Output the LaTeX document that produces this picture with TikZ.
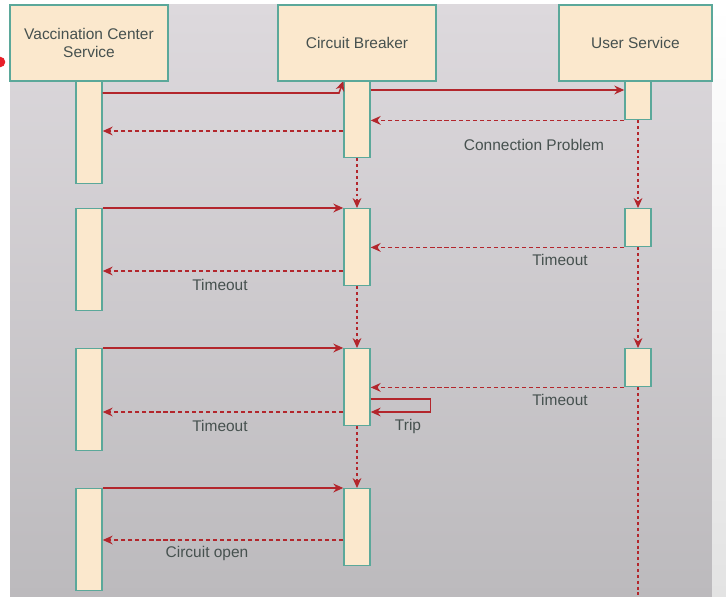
\documentclass[tikz,border=0pt]{standalone}
\usepackage{fontspec}
\setmainfont{Liberation Sans}
\usetikzlibrary{arrows.meta, calc}

\definecolor{boxfill}{HTML}{FBE8CD}
\definecolor{boxline}{HTML}{5BA89A}
\definecolor{msgred}{HTML}{B3262C}
\definecolor{txtgray}{HTML}{46514F}
\definecolor{bgtop}{HTML}{DDD9DD}
\definecolor{bgmid}{HTML}{D7D3D7}
\definecolor{bgbot}{HTML}{BCBABD}
\definecolor{recdot}{HTML}{E8202A}

% one pixel of the screen
\def\pu{0.03cm}

\begin{document}
\begin{tikzpicture}[x=\pu, y=-\pu,
    every node/.style={font=\fontsize{13.2}{15.5}\selectfont, text=txtgray},
    head/.style={draw=boxline, fill=boxfill, line width=1.3pt, minimum width=158*\pu,
                 minimum height=76*\pu, align=center, inner sep=0pt},
    bar/.style={draw=boxline, fill=boxfill, line width=1.2pt, minimum width=26*\pu,
                anchor=north, inner sep=0pt},
    call/.style={draw=msgred, line width=1.3pt, -{Stealth[length=8.5pt, width=7.5pt]}},
    reply/.style={call, dash pattern=on 3.5pt off 2.5pt},
    life/.style={call, line width=1.1pt, dash pattern=on 2.5pt off 2.5pt}]
            \useasboundingbox (0,0) rectangle (726,597);

            %--- screen background ---
            \fill[white] (0,0) rectangle (726,597);
            \shade[top color=bgtop, middle color=bgmid, bottom color=bgbot] (10,5) rectangle (712,597);
            \shade[top color=white, bottom color=gray!22] (712,5) rectangle (726,597);
            \fill[recdot] (0,62) circle [radius=4.5pt];

            %--- activation bars ---
            \node[bar, minimum height=102*\pu] (v1) at (89,81)  {};
            \node[bar, minimum height=102*\pu] (v2) at (89,208) {};
            \node[bar, minimum height=102*\pu] (v3) at (89,348) {};
            \node[bar, minimum height=102*\pu] (v4) at (89,488) {};

            \node[bar, minimum height=76*\pu] (c1) at (357,81)  {};
            \node[bar, minimum height=77*\pu] (c2) at (357,208) {};
            \node[bar, minimum height=77*\pu] (c3) at (357,348) {};
            \node[bar, minimum height=77*\pu] (c4) at (357,488) {};

            \node[bar, minimum height=38*\pu] (u1) at (638,81)  {};
            \node[bar, minimum height=38*\pu] (u2) at (638,208) {};
            \node[bar, minimum height=38*\pu] (u3) at (638,348) {};

            %--- lifelines ---
            \coordinate (uend) at (638,597);
            \draw[life] (c1.south) -- (c2.north);
            \draw[life] (c2.south) -- (c3.north);
            \draw[life] (c3.south) -- (c4.north);
            \draw[life] (u1.south) -- (u2.north);
            \draw[life] (u2.south) -- (u3.north);
            \draw[life, -] (u3.south) -- (uend);

            %--- round 1: connection problem
            \draw[call] (v1.east |- 0,93) -- (339,93) -- (c1.north west);
            \draw[call] (c1.east |- 0,90) -- (u1.west |- 0,90);
            \draw[reply] (u1.south west) -- (c1.east |- u1.south);
            \draw[reply] (c1.west |- 0,131) -- (v1.east |- 0,131);
            \node (cp) at (534,145) {Connection Problem};

            %--- round 2: timeout
            \draw[call] (v2.north east) -- (c2.north west);
            \draw[reply] (u2.south west) -- (c2.east |- u2.south);
            \node (to1) at (560,260) {Timeout};
            \draw[reply] (c2.west |- 0,271) -- (v2.east |- 0,271);
            \node (to2) at (220,285) {Timeout};

            %--- round 3: timeout and trip
            \draw[call] (v3.north east) -- (c3.north west);
            \draw[reply] (u3.south west) -- (c3.east |- u3.south);
            \node (to3) at (560,400) {Timeout};
            \draw[call] (c3.east |- 0,399) -- ++(60,0) |- (c3.east |- 0,412);
            \node (trip) at (408,426) {Trip};
            \draw[reply] (c3.west |- 0,412) -- (v3.east |- 0,412);
            \node (to4) at (220,426) {Timeout};

            %--- round 4: circuit open
            \draw[call] (v4.north east) -- (c4.north west);
            \draw[reply] (c4.west |- 0,540) -- (v4.east |- 0,540);
            \node (co) at (207,553) {Circuit open};

            %--- participants (on top)
            \node[head] (vcs) at (89,43)  {Vaccination Center\\Service};
            \node[head] (cb)  at (357,43) {Circuit Breaker};
            \node[head, minimum width=153*\pu] (us) at (635.5,43) {User Service};
        \end{tikzpicture}
\end{document}
